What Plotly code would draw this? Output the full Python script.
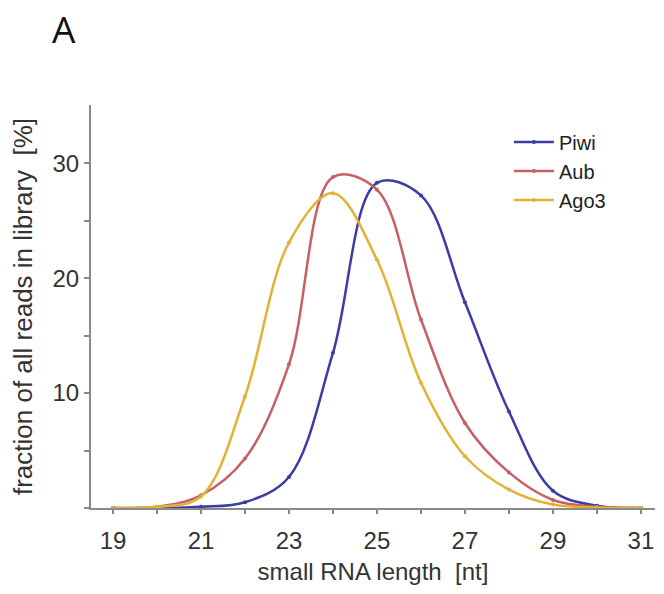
import plotly.graph_objects as go

lengths = list(range(19, 32))
piwi = [0.0, 0.0, 0.1, 0.5, 2.7, 13.5, 28.3, 27.2, 17.9, 8.4, 1.5, 0.2, 0.0]
aub = [0.0, 0.1, 1.1, 4.3, 12.5, 28.8, 27.7, 16.4, 7.4, 3.1, 0.7, 0.1, 0.0]
ago3 = [0.0, 0.1, 1.0, 9.7, 23.1, 27.4, 21.6, 10.9, 4.5, 1.6, 0.3, 0.05, 0.0]

series_names = ["Piwi", "Aub", "Ago3"]
series_colors = ["#3c3ca6", "#c65f66", "#e2b234"]

x_tickvals = list(range(19, 32))
x_ticktext = [str(v) if v % 2 == 1 else "" for v in x_tickvals]
y_tickvals = [0, 5, 10, 15, 20, 25, 30]
y_ticktext = ["", "", "10", "", "20", "", "30"]

fig = go.Figure()
for name, vals, col in zip(series_names, [piwi, aub, ago3], series_colors):
    fig.add_trace(go.Scatter(
        x=lengths, y=vals, name=name, mode="lines+markers",
        line=dict(color=col, width=2.5, shape="spline", smoothing=1.0),
        marker=dict(color=col, size=4),
    ))

font_family = "Liberation Sans, Arial, sans-serif"
fig.update_layout(
    width=664, height=594,
    margin=dict(l=91, r=9, t=105, b=86),
    paper_bgcolor="white", plot_bgcolor="white",
    font=dict(family=font_family, color="#333333", size=22),
    showlegend=True,
    legend=dict(x=0.741, y=0.836, xanchor="left", yanchor="middle",
                bgcolor="rgba(0,0,0,0)", font=dict(size=20, color="#222222"),
                tracegroupgap=0, itemwidth=40),
    xaxis=dict(
        range=[18.5, 31.32], tickmode="array", tickvals=x_tickvals, ticktext=x_ticktext,
        ticks="outside", ticklen=4, tickwidth=1.5, tickcolor="#888888",
        showline=True, linecolor="#8a8a8a", linewidth=2, showgrid=False, zeroline=False,
        tickfont=dict(size=24, color="#333333"), ticklabelstandoff=6,
        automargin=False,
        title=dict(text="small RNA length  [nt]", font=dict(size=24, color="#333333"), standoff=10),
    ),
    yaxis=dict(
        range=[0, 35.07], tickmode="array", tickvals=y_tickvals, ticktext=y_ticktext,
        ticks="outside", ticklen=5, tickwidth=1.5, tickcolor="#888888",
        showline=True, linecolor="#8a8a8a", linewidth=2, showgrid=False, zeroline=False,
        tickfont=dict(size=24, color="#333333"),
        automargin=False,
        title=dict(text="fraction of all reads in library  [%]", font=dict(size=26, color="#333333"), standoff=12),
    ),
    annotations=[dict(text="A", xref="paper", yref="paper", x=-0.072, y=1.19,
                      xanchor="left", yanchor="middle", showarrow=False,
                      font=dict(family="Open Sans, sans-serif", size=37, color="#111111"))],
)

fig.write_html("out.html", config={"displayModeBar": False},
               post_script="document.body.style.margin='0';")
